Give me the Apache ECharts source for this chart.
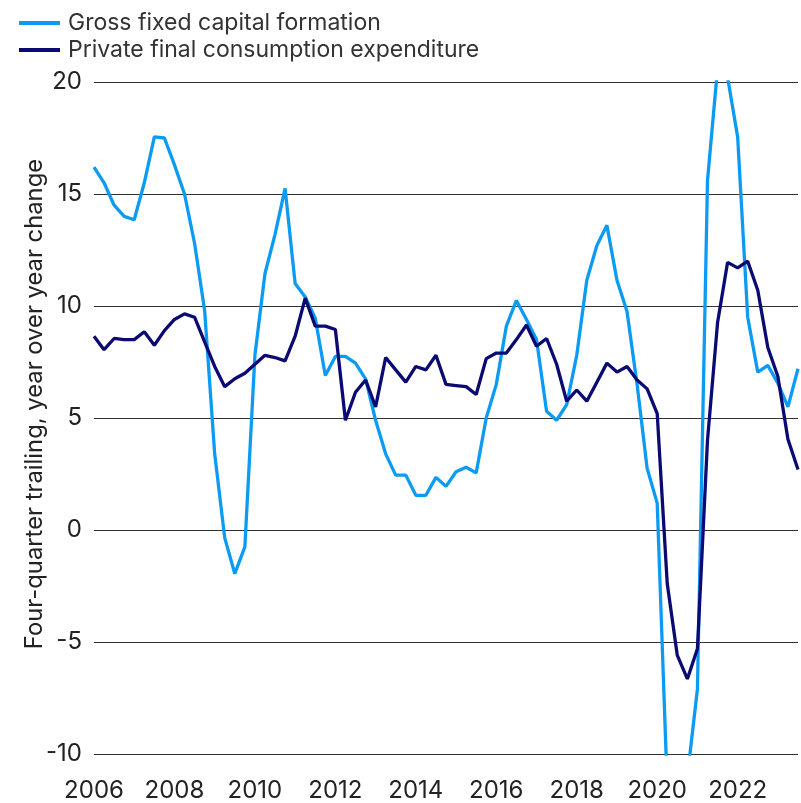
<!DOCTYPE html>
<html>
<head>
<meta charset="utf-8">
<script src="https://cdn.jsdelivr.net/npm/echarts@6/dist/echarts.min.js"></script>
<style>
  html, body { margin: 0; padding: 0; background: #fff; }
  #main { width: 801px; height: 803px; }
</style>
</head>
<body>
<div id="main"></div>
<script>
// quarterly, 2006 Q1 .. 2023 Q3
var years = ['2006','2007','2008','2009','2010','2011','2012','2013','2014','2015','2016','2017','2018','2019','2020','2021','2022','2023'];
var quarters = ['Q1','Q2','Q3','Q4'];
var tickYears = ['2006','2008','2010','2012','2014','2016','2018','2020','2022'];

var gfcf = [16.2, 15.5, 14.5, 14.0, 13.85, 15.5, 17.55, 17.5, 16.3, 15.0, 12.8,
    9.8, 3.4, -0.35, -1.95, -0.75, 7.8, 11.45, 13.2, 15.25, 11.0,
    10.4, 9.45, 6.9, 7.75, 7.75, 7.45, 6.75, 4.9, 3.4, 2.45,
    2.45, 1.55, 1.55, 2.35, 1.95, 2.6, 2.8, 2.55, 5.0, 6.5,
    9.1, 10.25, 9.4, 8.5, 5.3, 4.9, 5.6, 7.8, 11.15, 12.7,
    13.6, 11.15, 9.75, 6.5, 2.75, 1.2, -11.5, -17, -11, -7.1,
    15.6, 20.6, 20.2, 17.55, 9.5, 7.05, 7.35, 6.55, 5.5, 7.2];

var pfce = [8.65, 8.05, 8.55, 8.5, 8.5, 8.85, 8.25, 8.9, 9.4, 9.65, 9.5,
    8.4, 7.3, 6.4, 6.75, 7.0, 7.4, 7.8, 7.7, 7.55, 8.65,
    10.35, 9.1, 9.1, 8.95, 4.9, 6.15, 6.7, 5.5, 7.7, 7.15,
    6.6, 7.3, 7.15, 7.8, 6.5, 6.45, 6.4, 6.05, 7.65, 7.9,
    7.9, 8.5, 9.15, 8.2, 8.55, 7.4, 5.75, 6.25, 5.75, 6.6,
    7.45, 7.05, 7.3, 6.7, 6.3, 5.2, -2.4, -5.6, -6.65, -5.3,
    4.0, 9.25, 11.95, 11.7, 12.0, 10.7, 8.15, 6.85, 4.05, 2.7];

// category labels
var categories = [];
years.forEach(function (y) {
    quarters.forEach(function (q) {
        if (categories.length < gfcf.length) categories.push(y + ' ' + q);
    });
});

var myChart = echarts.init(document.getElementById('main'));

var option = {
    animation: false,
    textStyle: { fontFamily: 'Inter' },
    legend: {
        orient: 'vertical',
        left: 14,
        top: 5,
        itemWidth: 41,
        itemHeight: 4,
        itemGap: 1,
        icon: 'rect',
        textStyle: { fontSize: 23, color: '#333', lineHeight: 26, fontFamily: 'Inter', padding: [0, 0, 0, 3] },
        data: ['Gross fixed capital formation', 'Private final consumption expenditure']
    },
    grid: { left: 94, right: 0, top: 82, bottom: 49, containLabel: false },
    xAxis: {
        type: 'category',
        boundaryGap: false,
        data: categories,
        axisLine: { show: false },
        axisTick: { show: false },
        axisLabel: {
            interval: 0,
            margin: 25,
            fontSize: 24,
            color: '#222',
            formatter: function (v) {
                var y = v.slice(0, 4);
                return (v.slice(5) === 'Q1' && tickYears.indexOf(y) >= 0) ? y : '';
            }
        }
    },
    yAxis: {
        type: 'value',
        min: -10,
        max: 20,
        interval: 5,
        name: 'Four-quarter trailing, year over year change',
        nameLocation: 'middle',
        nameGap: 47,
        nameMoveOverlap: false,
        nameTextStyle: { fontSize: 23.8, color: '#222', padding: [0, 0, 0, 28] },
        axisLine: { show: false },
        axisTick: { show: false },
        axisLabel: { fontSize: 24, color: '#222', margin: 12 },
        splitLine: { lineStyle: { color: '#333', width: 1 } }
    },
    series: [
        {
            name: 'Gross fixed capital formation',
            type: 'line',
            data: gfcf,
            showSymbol: false,
            clip: true,
            color: '#0C9BF3',
            lineStyle: { width: 3.3, color: '#0C9BF3' }
        },
        {
            name: 'Private final consumption expenditure',
            type: 'line',
            data: pfce,
            showSymbol: false,
            clip: true,
            color: '#0A0A72',
            lineStyle: { width: 3.3, color: '#0A0A72' }
        }
    ]
};

myChart.setOption(option);
</script>
</body>
</html>
